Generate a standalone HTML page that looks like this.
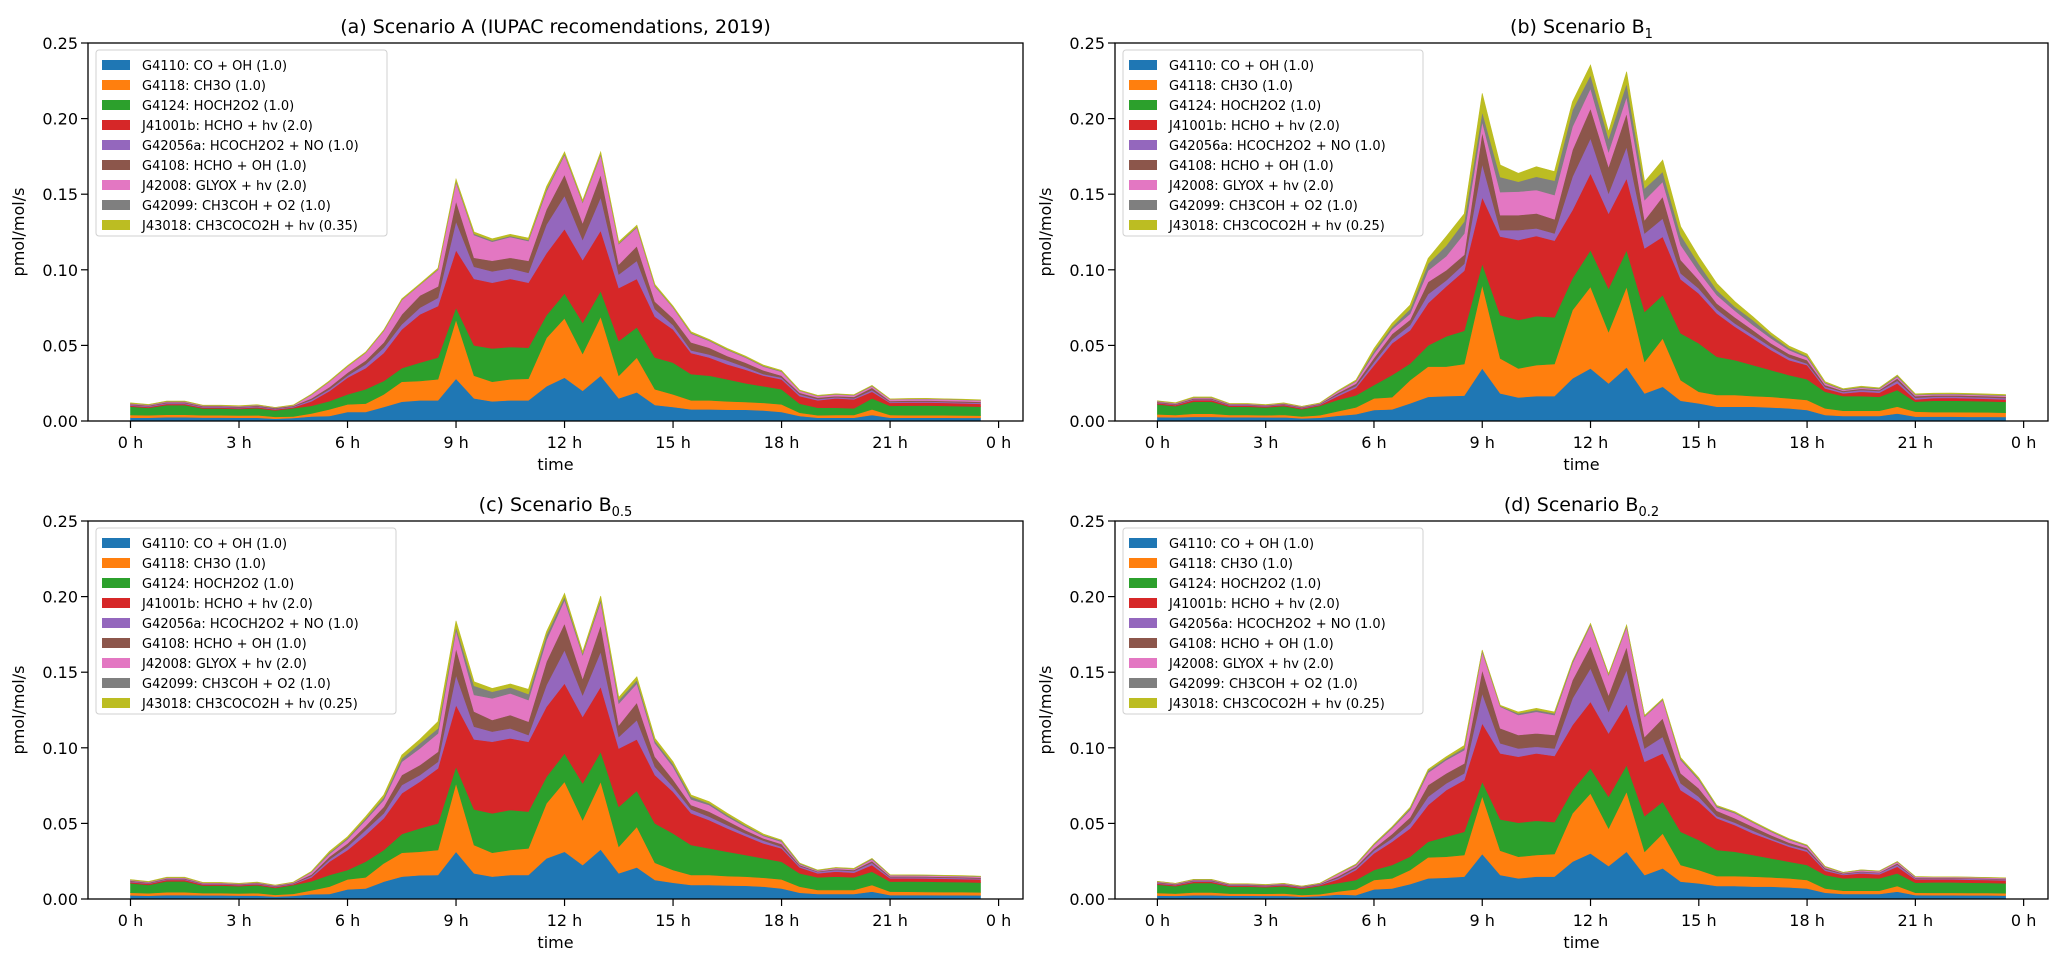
<!DOCTYPE html>
<html><head><meta charset="utf-8">
<style>
html,body{margin:0;padding:0;background:#fff;}
svg{display:block;font-family:"DejaVu Sans","Liberation Sans",sans-serif;}
</style></head>
<body>
<svg id="fig" width="2067" height="964" viewBox="0 0 2067 964" xmlns="http://www.w3.org/2000/svg"></svg>
<script>
// ---- data (values in 1e-3 pmol/mol/s), half-hourly 0h..23.5h ----
const hours = [0,0.5,1,1.5,2,2.5,3,3.5,4,4.5,5,5.5,6,6.5,7,7.5,8,8.5,9,9.5,10,10.5,11,11.5,12,12.5,13,13.5,14,14.5,15,15.5,16,16.5,17,17.5,18,18.5,19,19.5,20,20.5,21,21.5,22,22.5,23,23.5];
const seriesNames = ["G4110: CO + OH (1.0)","G4118: CH3O (1.0)","G4124: HOCH2O2 (1.0)","J41001b: HCHO + hv (2.0)","G42056a: HCOCH2O2 + NO (1.0)","G4108: HCHO + OH (1.0)","J42008: GLYOX + hv (2.0)","G42099: CH3COH + O2 (1.0)","J43018: CH3COCO2H + hv (0.25)"];
const yTicks = [0,0.05,0.10,0.15,0.20,0.25];
const yTickLabels = ["0.00","0.05","0.10","0.15","0.20","0.25"];
const xTicks = [0,3,6,9,12,15,18,21,24];
const xTickLabels = ["0 h","3 h","6 h","9 h","12 h","15 h","18 h","21 h","0 h"];

// Scenario A
const aBlue   = [2.2,2.2,2.5,2.5,2.3,2.3,2.2,2.2,1.5,2, 3,3.3,6,6,9.3,12.8,13.7,13.7,28,15, 13,13.7,13.7,23,28.7,20,30,15,19,10.6, 9.3,7.7,7.7,7.5,7.5,7,6,3.3,2.2,2.2, 2.2,4,2.2,2.2,2.2,2.2,2.1,2.1];
const aOrange = [1.8,1.6,1.7,1.7,1.5,1.5,1.5,1.6,1.3,1, 2,4.4,5,5.5,8.3,13.2,12.8,13.9,39,15, 13,13.9,14.3,32,39.3,24.5,39,15,23,10.4, 8.3,6,6,5.5,5.1,5,5,2.2,1.6,1.8, 1.8,3.7,1.8,1.6,1.6,1.6,1.6,1.5];
const aGreen  = [5.5,4.9,6.3,6.3,4.5,4.5,4.3,4.7,4.2,5.5, 5,5.5,6.6,9.5,8.9,9,12.1,14.4,8,20, 22,21.4,20.5,15,16.4,20.5,17,23,20,21, 21,17.3,16.3,14.6,12.4,11,10,6,5,4.8, 4.4,7.3,6,6.4,6.5,6.2,6.1,5.9];
const aRed    = [0.7,0.6,0.8,0.8,0.6,0.6,0.5,0.6,0.6,0.5, 3,6.6,11.1,14,18.5,25.6,31.9,34,38,44, 43.5,45,43,41,42.6,41.5,40,35,32,27, 22,14,12,9.9,9,7,6.6,5,4.9,6.2, 5.9,4.4,2,2,2,2,1.9,1.9];
const aPurple = [0.5,0.5,0.6,0.6,0.5,0.5,0.5,0.5,0.5,0.5, 1,1.2,1.3,2.5,3.5,3.4,4.5,5.5,19,8, 7.5,7,6.5,19,22,13.5,22,9,12,5, 2.9,1.7,2,2.5,1.7,1,1.1,1.1,0.8,0.7, 0.7,1.1,0.6,0.6,0.6,0.6,0.6,0.6];
const aBrown  = [0.5,0.5,0.5,0.5,0.5,0.5,0.5,0.5,0.5,0.5, 1,1.5,2,2.5,3.5,6.5,8,7.5,13.5,6, 7,7,8,10,14,11,15,6.6,9.7,5, 4.5,5.3,4.5,3,2.9,2.5,1.3,1.1,1,0.8, 1,1.5,0.7,0.7,0.7,0.7,0.7,0.7];
const aPink   = [0.3,0.3,0.4,0.4,0.3,0.3,0.3,0.3,0.2,0.3, 2.3,3.5,4,5,7.5,9.5,7,11,12.5,15, 12.6,13.7,13,12,13,13.5,13,13.4,12.3,10, 7,5.8,4.5,4,3.4,2.5,2.6,1.3,1,1.1, 1,1,1,1,1,1,1,0.9];
const aGray   = [0.2,0.2,0.2,0.2,0.1,0.1,0.1,0.2,0.1,0.1, 0.2,0.2,0.2,0.2,0.3,0.3,0.3,0.4,0.8,0.8, 0.8,0.7,0.8,1.2,0.8,0.6,0.8,0.6,0.6,0.5, 0.4,0.5,0.4,0.4,0.4,0.4,0.4,0.2,0.2,0.2, 0.2,0.3,0.1,0.2,0.2,0.2,0.2,0.2];
const aOlive  = [0.3,0.2,0.2,0.2,0.2,0.2,0.2,0.2,0.1,0.2, 0.3,0.4,0.4,0.4,0.4,0.5,0.5,0.6,1.2,1.2, 1.1,1.1,1.2,1.8,1.2,0.9,1.2,1,0.9,0.8, 0.6,0.7,0.6,0.6,0.6,0.6,0.5,0.3,0.3,0.2, 0.2,0.3,0.2,0.2,0.2,0.2,0.2,0.2];

// Scenario B1
const bBlue   = [2.6,2.4,2.8,2.8,2.5,2.5,2.4,2.5,1.8,2.2, 3.5,4.5,7.3,7.7,11.7,16,16.5,16.8,34.8,18.3, 15.6,16.5,16.5,28.2,34.8,24.9,35.5,18.3,22.7,13.4, 11.7,9.5,9.5,9.5,9,8.4,7.3,4,3.3,3.3, 3.3,5,2.9,2.9,2.9,2.8,2.8,2.7];
const bOrange = [1.8,1.6,2,2,1.5,1.5,1.4,1.6,1.2,1.6, 3,4.5,7.7,8,15.3,20,19.5,20.9,55.2,23.1, 19.2,20.5,21.2,45.2,54,34.1,53.3,20.9,32,13.6, 7.7,7.7,7.7,7,7,6.6,6.6,4.4,3.5,3.5, 3.5,4.5,3.3,3,3,3,2.9,2.8];
const bGreen  = [6.6,5.8,8,8,5.5,5.5,5.2,5.8,4.8,6.2, 7.5,8,8.8,14.7,11,14,20,22,14,28.6, 32,32.4,30.9,21,24.2,28.7,24.2,33.1,28.6,31, 32,25.3,23.1,20.5,17.7,15.4,13.7,11,9.7,9.7, 9.2,11,6.6,7.5,7.6,7.5,7.3,7.2];
const bRed    = [0.8,0.7,1,1,0.7,0.7,0.6,0.7,0.6,0.6, 2.5,5,13,21,22,28,33,39.7,44,52, 52.9,53,50.7,45.2,50.8,49.6,47.5,41.9,38.6,35.7, 33,28.7,22.1,17.7,13.3,9.9,9.4,2.2,1.8,2.9, 2.7,4.5,1.5,1.8,1.8,1.7,1.7,1.6];
const bPurple = [0.4,0.4,0.5,0.5,0.4,0.4,0.4,0.4,0.4,0.4, 1,1.2,2.2,2.6,3.5,6,4,4.6,22,4.3, 6.6,5,4.8,22,23.2,13.3,20.9,9.9,12.1,4, 3.3,2.7,2.2,2.2,2,1.7,1,1.1,0.9,1.1, 1.1,1.7,1.1,0.9,0.9,0.9,0.9,0.9];
const bBrown  = [0.5,0.5,0.6,0.6,0.4,0.4,0.4,0.4,0.4,0.4, 1,1.5,2.7,3.5,3.5,8,6.7,6,21,9.9, 9.9,9.9,9.3,17.7,19.8,17.6,22.1,8.8,14.4,8.8, 5.6,3.9,4,3.3,2.4,2.3,2.3,1.1,0.8,0.9, 0.7,1.5,1.1,0.9,0.9,0.9,0.9,0.9];
const bPink   = [0.3,0.3,0.4,0.4,0.3,0.3,0.2,0.3,0.3,0.3, 1,1.5,2.8,3.1,4,7.5,9.3,14,7,15.2, 15.5,15.5,16.1,15.4,13.2,9.8,11,13.3,9.9,9.9, 5.5,5.5,4.4,3.3,3.3,2.7,1.7,1.2,0.5,0.6, 0.7,1.1,0.7,0.6,0.6,0.6,0.6,0.6];
const bGray   = [0.2,0.2,0.3,0.3,0.1,0.1,0.1,0.1,0.1,0.1, 0.3,0.4,1.8,1.8,3,4.6,7,8,6.6,10, 6.6,8.8,9.5,11,8.8,8.9,8.8,7.7,6.6,6.6, 5.2,3.3,2.6,3.3,2.2,1.3,1,0.4,0.5,0.5, 0.4,0.7,0.4,0.4,0.4,0.4,0.4,0.4];
const bOlive  = [0.2,0.2,0.3,0.3,0.2,0.2,0.2,0.2,0.1,0.2, 0.3,0.5,1.6,2.2,2.7,3.4,6,5,12.1,7.9, 5.5,6.6,6,5.5,6.7,4.5,7.7,4.4,7.7,5.5, 4.7,4.4,3.4,2.2,1.5,1.3,1.3,0.6,0.4,0.5, 0.4,0.4,0.4,0.4,0.4,0.4,0.4,0.4];

// Scenario B0.5
const cBlue   = [2.4,2.2,2.6,2.6,2.4,2.4,2.3,2.3,1.6,2.1, 3.2,3.3,6.4,7,11.5,14.8,15.7,15.9,31.3,17, 14.8,15.9,15.9,26.9,31.3,22.5,32.8,17,20.9,12.6, 10.8,9.3,9.3,9,8.8,8.2,7,4.2,3.3,3.3, 3.3,4.9,2.6,2.6,2.6,2.5,2.5,2.4];
const cOrange = [1.8,1.6,1.9,1.9,1.5,1.5,1.4,1.6,1.2,1.3, 2.5,4.9,6.6,7.3,12.1,15.8,15.6,16.5,45.2,18.7, 15.8,16.5,17.6,36.4,46.3,29.7,44.8,17.6,26.9,11.4, 8.4,6.6,6.6,6.2,6,5.9,6,4,2.7,2.7, 2.7,4.4,2.3,2.2,2.1,2.1,2.1,2];
const cGreen  = [6.2,5.5,7.2,7.2,5,5,4.8,5.2,4.5,5.8, 6,7.7,6.2,10.4,8.8,12.4,15.4,17.6,11,23.6, 26.1,26.5,24.3,17.6,18.7,24.3,19.8,26.4,23.8,26, 24.2,19.8,17.6,16.1,14.3,12.8,11.7,8.8,8.3,8.8, 8.3,8.8,6.6,6.8,6.8,6.7,6.6,6.5];
const cRed    = [0.8,0.7,0.9,0.9,0.7,0.7,0.6,0.7,0.6,0.6, 2.5,8.8,13.2,17.6,21,26.9,30.9,36.4,40.8,46.3, 47.3,47.4,46.2,46.3,46.3,44.1,43,38.6,34,32, 27.6,21,18.7,15.4,12.6,9.9,8.8,3.9,2.7,3.3, 3.1,4.4,2.2,2.1,2.1,2.1,2,2];
const cPurple = [0.5,0.4,0.5,0.5,0.4,0.4,0.4,0.4,0.4,0.4, 1,1.5,2.2,3.3,3.3,5.5,4.4,4.4,19.8,8.4, 6.7,6.6,4.5,14.3,22.1,14.3,23.2,7.7,12.8,5.5, 3.3,2.6,2.3,2.2,1.7,1.8,1.1,0.9,0.9,1.1, 1.1,1.5,0.6,0.7,0.7,0.7,0.7,0.6];
const cBrown  = [0.5,0.5,0.5,0.5,0.4,0.4,0.4,0.4,0.4,0.4, 1,1.8,2.2,2.7,4.3,6.6,6.6,6.6,17.7,10, 7.7,8.8,8.8,15.5,17.6,11,17.6,7.7,11.5,6.6, 4.8,2.9,3.3,2.9,2.2,1.5,1.8,0.7,0.4,0.6, 0.7,1.1,0.7,0.6,0.6,0.6,0.6,0.6];
const cPink   = [0.3,0.3,0.4,0.4,0.3,0.3,0.2,0.3,0.3,0.3, 1.5,1.8,2.7,3.9,4.5,8.8,11,12.2,12.1,11, 14.3,14.3,14.3,14.3,15.4,15.5,15.4,14.3,12.7,8.9, 8.4,3.7,4.4,2.7,2.2,1.6,1.5,0.6,0.4,0.7, 0.6,1.1,0.7,0.6,0.6,0.6,0.6,0.6];
const cGray   = [0.2,0.2,0.2,0.2,0.1,0.1,0.1,0.1,0.1,0.1, 0.3,0.8,0.8,1.1,1.7,2.2,3.4,3.3,2.1,6, 4.4,4,4,3.3,2.3,1.1,1.6,2.3,2.2,1.7, 1.8,1.8,1.1,1.1,0.9,0.6,0.7,0.5,0.3,0.2, 0.2,0.5,0.2,0.2,0.2,0.2,0.2,0.2];
const cOlive  = [0.2,0.2,0.2,0.2,0.2,0.2,0.2,0.2,0.1,0.2, 0.3,0.9,0.9,1.2,1.6,2.2,2.6,4.4,4,2.7, 2.2,2.2,3.1,2.2,2.2,1.1,2.2,1.8,2.2,1.6, 1.5,1.1,1.1,1.1,0.9,0.7,0.4,0.2,0.2,0.2, 0.3,0.2,0.2,0.2,0.2,0.2,0.2,0.2];

// Scenario B0.2
const dBlue   = [2.3,2.1,2.5,2.5,2.2,2.2,2.1,2.2,1.5,2, 3,2.6,6.4,7,9.9,13.7,14.1,14.8,29.8,15.9, 13.7,14.8,14.8,24.7,30.2,21.8,31.3,15.9,20.3,11.5, 10.4,8.6,8.6,8.2,8.2,7.7,7,4.2,3.3,3.3, 3.3,4.9,2.6,2.5,2.5,2.4,2.4,2.3];
const dOrange = [1.7,1.5,1.8,1.8,1.4,1.4,1.4,1.5,1.2,1.2, 2,3.8,6.2,6.7,9.3,13.9,13.9,14.3,38.3,16.1, 14.3,14.3,15,32,39.7,24.9,39.7,15.4,23.1,11, 8.8,6.6,6.6,6.6,6.1,6,5.6,2.8,2.2,2.2, 2.2,3.7,1.6,1.6,1.6,1.6,1.6,1.5];
const dGreen  = [5.5,4.9,6.3,6.3,4.6,4.6,4.3,4.8,4.1,5.4, 5.5,6.2,6.6,8.8,8.8,10.3,13.2,15.4,9.5,20.7, 22.5,22.7,21.1,15.3,16.5,21,17.6,23.6,21,22, 19.8,17.2,16.1,14.3,12.6,11,9.9,8.9,8.2,8.6, 8.2,8.4,6.6,6.9,6.9,6.8,6.7,6.6];
const dRed    = [0.7,0.6,0.8,0.8,0.6,0.6,0.6,0.6,0.6,0.6, 2.5,6.6,11,15.4,18.7,24.3,30.8,34.2,38.6,43.6, 43.6,44.5,43.7,43.1,44.1,41.9,40.4,35.9,31.9,27.5, 25.4,21,17.6,14.3,12.1,9.9,8.8,2.8,2.2,2.9, 2.6,4.4,2.2,2,2,2,1.9,1.9];
const dPurple = [0.5,0.4,0.5,0.5,0.4,0.4,0.4,0.4,0.4,0.4, 1,1.1,1.8,2.2,3.3,5.5,4.5,4.4,19.8,6.7, 5.5,4.4,5,17.6,22.1,14.3,22.5,8.8,11,4.5, 3.3,1.5,1.6,1.8,1.1,1.1,1.1,0.9,0.6,0.9, 0.9,1.3,0.7,0.6,0.6,0.6,0.6,0.6];
const dBrown  = [0.5,0.4,0.5,0.5,0.4,0.4,0.4,0.4,0.4,0.4, 1,1.1,1.5,2.9,4,7.7,6.6,6.6,15.5,9.9, 8.9,8.9,8.9,12.1,14.7,11,15.4,7.7,12.2,6.6, 5.5,3.5,2.9,2.6,2.2,1.6,1.3,0.9,0.5,0.4, 0.4,0.9,0.4,0.4,0.4,0.4,0.4,0.4];
const dPink   = [0.3,0.3,0.4,0.4,0.3,0.3,0.2,0.3,0.2,0.3, 1.5,1.1,2.2,3.7,4.9,8.2,8.8,8.8,12.1,14.3, 13.2,14.3,13.2,11.1,13.9,13.2,13.2,13.3,12.1,8.8, 5.5,2.2,3.3,2.7,2.2,1.7,1.4,0.7,0.4,0.7, 0.7,0.9,0.5,0.5,0.5,0.5,0.5,0.5];
const dGray   = [0.1,0.1,0.1,0.1,0.1,0.1,0.1,0.1,0.1,0.1, 0.2,0.4,0.5,0.7,1.1,1.3,1.1,1.5,0.7,0.4, 1.1,1.1,1.1,1.1,0.7,0.5,0.7,0.4,0.5,0.9, 0.9,0.9,0.6,0.4,0.5,0.5,0.4,0.2,0.2,0.2, 0.2,0.2,0.2,0.1,0.1,0.1,0.1,0.1];
const dOlive  = [0.1,0.1,0.1,0.1,0.1,0.1,0.1,0.1,0.1,0.1, 0.2,0.2,0.4,0.4,0.6,0.9,1.1,1.5,0.4,0.5, 0.9,1.1,0.9,0.4,0.4,0.4,0.4,0.5,0.4,0.7, 0.6,0.4,0.5,0.5,0.4,0.4,0.2,0.2,0.1,0.1, 0.1,0.1,0.1,0.1,0.1,0.1,0.1,0.1];

const colors = ["#1f77b4","#ff7f0e","#2ca02c","#d62728","#9467bd","#8c564b","#e377c2","#7f7f7f","#bcbd22"];
const panels = [
  {id:"a", left:88, top:43, w:935, h:378, title:["(a) Scenario A (IUPAC recomendations, 2019)",""], last:"J43018: CH3COCO2H + hv (0.35)",
   series:[aBlue,aOrange,aGreen,aRed,aPurple,aBrown,aPink,aGray,aOlive]},
  {id:"b", left:1115, top:43, w:933, h:378, title:["(b) Scenario B","1"], last:"J43018: CH3COCO2H + hv (0.25)",
   series:[bBlue,bOrange,bGreen,bRed,bPurple,bBrown,bPink,bGray,bOlive]},
  {id:"c", left:88, top:521, w:935, h:378, title:["(c) Scenario B","0.5"], last:"J43018: CH3COCO2H + hv (0.25)",
   series:[cBlue,cOrange,cGreen,cRed,cPurple,cBrown,cPink,cGray,cOlive]},
  {id:"d", left:1115, top:521, w:933, h:378, title:["(d) Scenario B","0.2"], last:"J43018: CH3COCO2H + hv (0.25)",
   series:[dBlue,dOrange,dGreen,dRed,dPurple,dBrown,dPink,dGray,dOlive]}
];

const NS = "http://www.w3.org/2000/svg";
const svg = document.getElementById("fig");
function mk(tag, attrs, parent){
  const e = document.createElementNS(NS, tag);
  for (const k in attrs) e.setAttribute(k, attrs[k]);
  (parent||svg).appendChild(e);
  return e;
}
const XMIN = -1.175, XMAX = 24.675, YMAX = 0.25;

panels.forEach(p => {
  const g = mk("g", {});
  
  
  const xs = h => p.left + (h - XMIN) / (XMAX - XMIN) * p.w;
  const ys = v => p.top + p.h - (v / YMAX) * p.h;

  // stacked areas
  const base = hours.map(() => 0);
  p.series.forEach((s, si) => {
    const lower = base.slice();
    const upper = base.map((b, i) => b + s[i] / 1000);
    let d = "M" + hours.map((h, i) => xs(h).toFixed(2) + "," + ys(upper[i]).toFixed(2)).join(" L");
    for (let i = hours.length - 1; i >= 0; i--) d += " L" + xs(hours[i]).toFixed(2) + "," + ys(lower[i]).toFixed(2);
    d += " Z";
    const path = mk("path", {d: d, fill: colors[si], stroke: colors[si], "stroke-width": "0.6"}, g);
    
    
    for (let i = 0; i < base.length; i++) base[i] = upper[i];
  });

  // frame
  const frame = mk("rect", {x: p.left, y: p.top, width: p.w, height: p.h, fill: "none", stroke: "#000", "stroke-width": "1.3"}, g);
  
  

  // y ticks
  yTicks.forEach((v, i) => {
    const y = ys(v);
    mk("line", {x1: p.left - 7, x2: p.left, y1: y, y2: y, stroke: "#000", "stroke-width": "1.2"}, g);
    const t = mk("text", {x: p.left - 10, y: y + 6, "text-anchor": "end", "font-size": "16", fill: "#000"}, g);
    t.textContent = yTickLabels[i];
    
    
  });
  // x ticks
  xTicks.forEach((h, i) => {
    const x = xs(h);
    mk("line", {x1: x, x2: x, y1: p.top + p.h, y2: p.top + p.h + 7, stroke: "#000", "stroke-width": "1.2"}, g);
    const t = mk("text", {x: x, y: p.top + p.h + 27, "text-anchor": "middle", "font-size": "16", fill: "#000"}, g);
    t.textContent = xTickLabels[i];
    
    
  });
  // axis titles
  const xl = mk("text", {x: p.left + p.w / 2, y: p.top + p.h + 49, "text-anchor": "middle", "font-size": "16", fill: "#000"}, g);
  xl.textContent = "time";
  
  
  const ylx = p.left - 64, yly = p.top + p.h / 2;
  const yl = mk("text", {x: ylx, y: yly, "text-anchor": "middle", "font-size": "16", fill: "#000", transform: "rotate(-90 " + ylx + " " + yly + ")"}, g);
  yl.textContent = "pmol/mol/s";
  
  

  // title
  const tt = mk("text", {x: p.left + p.w / 2, y: p.top - 10, "text-anchor": "middle", "font-size": "19", fill: "#000"}, g);
  tt.textContent = p.title[0];
  if (p.title[1]) {
    const sub = mk("tspan", {"font-size": "13", dy: "5"}, tt);
    sub.textContent = p.title[1];
  }
  
  

  // legend
  const lg = mk("g", {}, g);
  
  
  const lx = p.left + 8, ly = p.top + 7;
  const lw = (p.id === "a") ? 291 : 300;
  mk("rect", {x: lx, y: ly, width: lw, height: 186, rx: 3, fill: "#fff", "fill-opacity": "0.85", stroke: "#d0d0d0", "stroke-width": "1"}, lg);
  seriesNames.forEach((nm, si) => {
    const ry = ly + 10 + si * 20;
    const ent = mk("g", {}, lg);
    
    
    mk("rect", {x: lx + 6, y: ry, width: 28, height: 10, fill: colors[si]}, ent);
    const t = mk("text", {x: lx + 46, y: ry + 10, "font-size": "13", fill: "#000"}, ent);
    t.textContent = (si === 8) ? p.last : nm;
  });
});
</script>
</body></html>
